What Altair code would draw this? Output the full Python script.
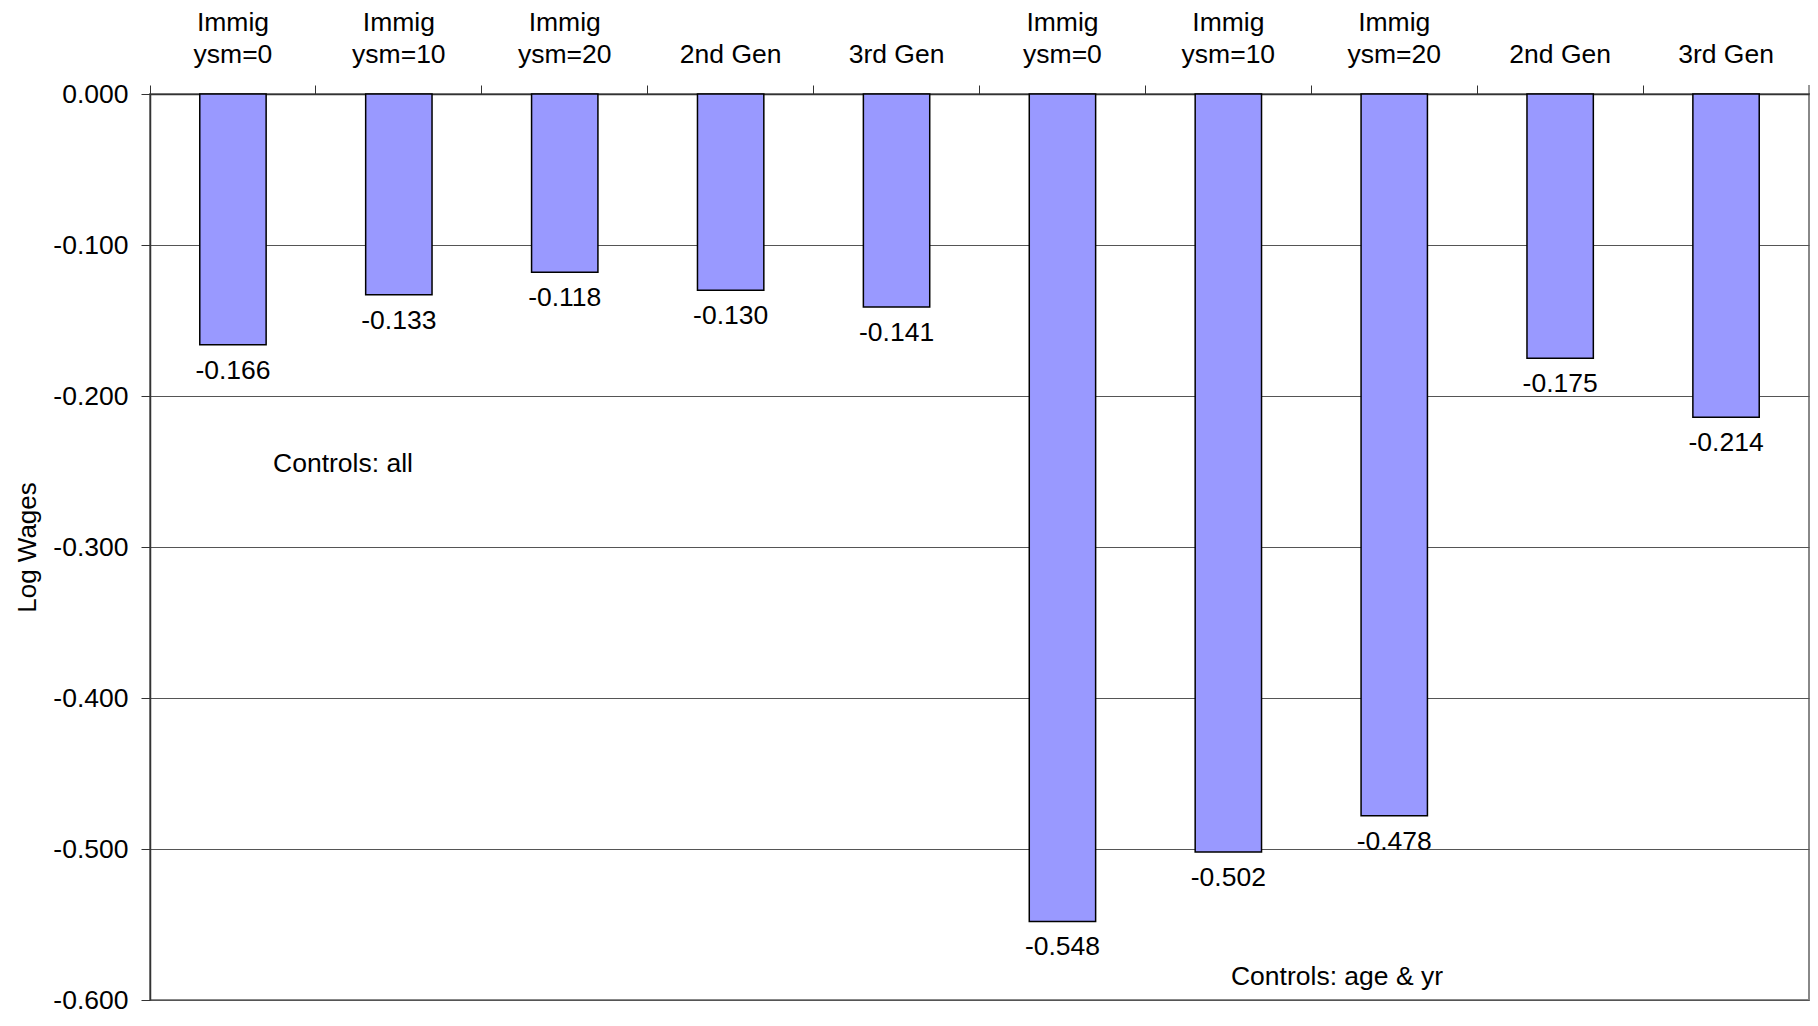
import altair as alt
import pandas as pd

# ---- data ----
line1 = ["Immig", "Immig", "Immig", "", "", "Immig", "Immig", "Immig", "", ""]
line2 = ["ysm=0", "ysm=10", "ysm=20", "2nd Gen", "3rd Gen",
         "ysm=0", "ysm=10", "ysm=20", "2nd Gen", "3rd Gen"]
values = [-0.166, -0.133, -0.118, -0.130, -0.141,
          -0.548, -0.502, -0.478, -0.175, -0.214]
y_ticks = [0.0, -0.1, -0.2, -0.3, -0.4, -0.5, -0.6]
notes = ["Controls: all", "Controls: age & yr"]
note_y = [-0.245, -0.585]

FONT = "Liberation Sans"
FS = 26.5
W, H = 1659, 906

df = pd.DataFrame({"idx": list(range(len(values))), "value": values})
df["label"] = [f"{v:.3f}" for v in values]

label_expr = "[" + ",".join(
    "['" + a + "','" + b + "']" for a, b in zip(line1, line2)
) + "][datum.value]"

x_enc = alt.X(
    "idx:O",
    scale=alt.Scale(paddingInner=0, paddingOuter=0),
    axis=alt.Axis(
        orient="top",
        title=None,
        labelExpr=label_expr,
        labelAngle=0,
        labelFont=FONT,
        labelFontSize=FS,
        labelColor="black",
        labelLineHeight=32,
        labelPadding=49,
        tickSize=9,
        tickColor="#333",
        domainColor="#333",
        domainWidth=1.5,
        bandPosition=0,
        grid=False,
    ),
)

y_enc = alt.Y(
    "value:Q",
    scale=alt.Scale(domain=[-0.6, 0], nice=False),
    axis=alt.Axis(
        values=y_ticks,
        labelExpr="(datum.value < 0 ? '-' : '') + format(abs(datum.value), '.3f')",
        title="Log Wages",
        titleFont=FONT,
        titleFontSize=26,
        titleFontWeight="normal",
        titleColor="black",
        titlePadding=12,
        labelFont=FONT,
        labelFontSize=FS,
        labelColor="black",
        labelPadding=13,
        tickSize=9,
        tickColor="#333",
        domainColor="#333",
        domainWidth=1.5,
        grid=True,
        gridColor="#555",
        gridWidth=1,
    ),
)

bars = alt.Chart(df).mark_bar(
    width=alt.RelativeBandSize(0.4),
    color="#9999FF",
    stroke="black",
    strokeWidth=1.5,
).encode(x=x_enc, y=y_enc)

texts = alt.Chart(df).mark_text(
    baseline="top", dy=13, font=FONT, fontSize=FS, color="black"
).encode(x="idx:O", y="value:Q", text="label:N")

notes_df = pd.DataFrame({"note": notes, "y": note_y, "px": [193, 1187]})
note_marks = alt.Chart(notes_df).mark_text(
    font=FONT, fontSize=FS, color="black", align="center", baseline="middle"
).encode(x=alt.X("px:Q", scale=None), y="y:Q", text="note:N")

# closing tick at the right end of the top axis
end_tick = alt.Chart(pd.DataFrame({"a": [0]})).mark_rule(
    color="#333", strokeWidth=1
).encode(x=alt.value(W), y=alt.value(-9), y2=alt.value(0))

chart = (
    alt.layer(bars, texts, note_marks, end_tick)
    .properties(
        width=W, height=H,
        autosize=alt.AutoSizeParams(type="none"),
        padding={"left": 142, "top": 86, "right": 1, "bottom": 14},
    )
    .configure_view(stroke="#888", strokeWidth=2)
)

chart.save("out.html", embed_options={"renderer": "svg", "actions": False})
